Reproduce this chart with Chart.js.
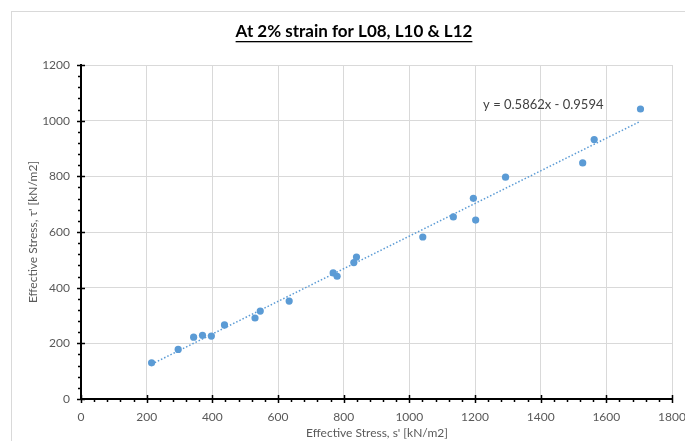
<!DOCTYPE html>
<html>
<head>
<meta charset="utf-8">
<script src="https://cdn.jsdelivr.net/npm/chart.js@4.4.0/dist/chart.umd.min.js"></script>
<style>
  html, body { margin: 0; padding: 0; background: #ffffff; }
  #wrap { width: 685px; height: 441px; position: relative; }
</style>
</head>
<body>
<div id="wrap"><canvas id="chart" width="685" height="441"></canvas></div>
<script>
// Text
const chartTitle = 'At 2% strain for L08, L10 & L12';
const xAxisTitle = "Effective Stress, s' [kN/m2]";
const yAxisTitle = "Effective Stress, \u03C4' [kN/m2]";

// Measured points: effective normal stress s' and shear stress tau'
const sValues   = [215, 296, 343, 370, 397, 437, 530, 546, 634, 768, 780, 831, 839, 1041, 1134, 1195, 1202, 1293, 1528, 1563, 1704];
const tauValues = [130, 178, 222, 229, 226, 266, 291, 316, 352, 453, 441, 490, 510, 582, 654, 721, 643, 797, 848, 932, 1042];

// Linear trendline
const trendSlope = 0.5862;
const trendIntercept = -0.9594;
const trendLabel = 'y = 0.5862x - 0.9594';

// Axis ticks
const xTicks = [0, 200, 400, 600, 800, 1000, 1200, 1400, 1600, 1800];
const yTicks = [0, 200, 400, 600, 800, 1000, 1200];
const minorStep = 40;

const FONT = 'Lato, "Open Sans", sans-serif';
const BLUE = '#5B9BD5';
const GREY_TEXT = '#595959';

const points = sValues.map((s, i) => ({ x: s, y: tauValues[i] }));
const sMin = Math.min(...sValues);
const sMax = Math.max(...sValues);
const trendPoints = [sMin, sMax].map(s => ({ x: s, y: trendSlope * s + trendIntercept }));

const decor = {
  id: 'decor',
  beforeDraw(chart) {
    const ctx = chart.ctx;
    ctx.save();
    ctx.fillStyle = '#ffffff';
    ctx.fillRect(0, 0, chart.width, chart.height);
    ctx.strokeStyle = '#d9d9d9';
    ctx.lineWidth = 1;
    ctx.strokeRect(11.5, 11.5, chart.width + 40, chart.height + 40);
    ctx.restore();
  },
  afterDraw(chart) {
    const { ctx, chartArea: a, scales: { x, y } } = chart;
    ctx.save();

    // Title with underline
    ctx.font = 'bold 17px ' + FONT;
    ctx.fillStyle = '#000000';
    ctx.textAlign = 'center';
    ctx.textBaseline = 'middle';
    const tx = 354, ty = 32;
    ctx.fillText(chartTitle, tx, ty);
    const tw = ctx.measureText(chartTitle).width;
    ctx.fillRect(tx - tw / 2, ty + 9, tw, 1.3);

    // Axis titles
    ctx.font = '12px ' + FONT;
    ctx.fillStyle = GREY_TEXT;
    ctx.fillText(xAxisTitle, 377, 433);
    ctx.save();
    ctx.translate(33, 232);
    ctx.rotate(-Math.PI / 2);
    ctx.fillText(yAxisTitle, 0, 0);
    ctx.restore();

    // Trendline equation
    ctx.font = '13px ' + FONT;
    ctx.fillStyle = '#404040';
    ctx.fillText(trendLabel, x.getPixelForValue(1408), y.getPixelForValue(1057));

    // Major and minor tick marks
    ctx.strokeStyle = '#000000';
    ctx.lineWidth = 1.5;
    ctx.beginPath();
    for (let v = 0; v <= 1800; v += minorStep) {
      const px = Math.round(x.getPixelForValue(v)) + 0.5;
      if (v % 200 === 0) { ctx.moveTo(px, a.bottom - 4); ctx.lineTo(px, a.bottom + 4); }
      else { ctx.moveTo(px, a.bottom); ctx.lineTo(px, a.bottom + 3); }
    }
    for (let v = 0; v <= 1200; v += minorStep) {
      const py = Math.round(y.getPixelForValue(v)) + 0.5;
      if (v % 200 === 0) { ctx.moveTo(a.left - 4, py); ctx.lineTo(a.left + 4, py); }
      else { ctx.moveTo(a.left - 3, py); ctx.lineTo(a.left, py); }
    }
    ctx.stroke();
    ctx.restore();
  }
};

// Fixed scale boxes so the plot area sits exactly inside the layout padding
function fixBox(size) {
  return s => {
    if (s.isHorizontal()) s.height = size; else s.width = size;
    s.paddingLeft = s.paddingRight = s.paddingTop = s.paddingBottom = 0;
  };
}

new Chart(document.getElementById('chart'), {
  type: 'scatter',
  data: {
    datasets: [
      {
        label: 'Data',
        data: points,
        backgroundColor: BLUE,
        borderColor: BLUE,
        pointRadius: 3.6,
        pointBorderWidth: 0,
        order: 1
      },
      {
        label: 'Linear trend',
        type: 'line',
        data: trendPoints,
        borderColor: BLUE,
        borderWidth: 1.5,
        borderDash: [1.5, 2],
        pointRadius: 0,
        fill: false,
        order: 2
      }
    ]
  },
  options: {
    responsive: false,
    animation: false,
    devicePixelRatio: 1,
    layout: { padding: { left: 11, right: 13, top: 65, bottom: 2 } },
    plugins: {
      legend: { display: false },
      title: { display: false },
      tooltip: { enabled: false }
    },
    scales: {
      x: {
        type: 'linear',
        min: 0,
        max: 1800,
        afterBuildTicks: s => { s.ticks = xTicks.map(v => ({ value: v })); },
        afterFit: fixBox(40),
        grid: { color: '#d9d9d9', lineWidth: 1, drawTicks: false },
        border: { display: true, color: '#000000', width: 2 },
        ticks: { padding: 11, color: GREY_TEXT, font: { family: FONT, size: 12 }, maxRotation: 0, callback: v => String(v) }
      },
      y: {
        type: 'linear',
        min: 0,
        max: 1200,
        afterBuildTicks: s => { s.ticks = yTicks.map(v => ({ value: v })); },
        afterFit: fixBox(70),
        grid: { color: '#d9d9d9', lineWidth: 1, drawTicks: false },
        border: { display: true, color: '#000000', width: 2 },
        ticks: { padding: 11, color: GREY_TEXT, font: { family: FONT, size: 12 }, callback: v => String(v) }
      }
    }
  },
  plugins: [decor]
});
</script>
</body>
</html>
